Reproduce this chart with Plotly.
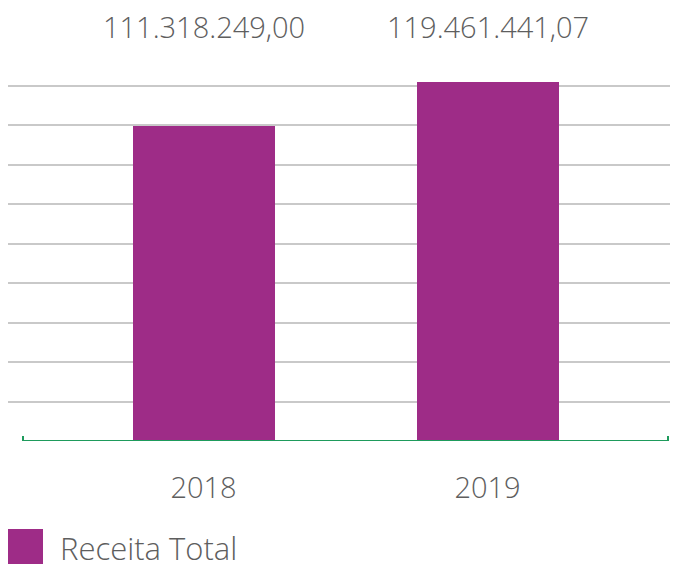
import plotly.graph_objects as go

# ---- data ----
categories = ["2018", "2019"]
values = [111318249.00, 119461441.07]
series_name = "Receita Total"

# ---- styling constants ----
BAR_COLOR = "#9E2C87"
GRID_COLOR = "#C9C9C9"
AXIS_COLOR = "#1E9B5C"
TEXT_COLOR = "#5E5E5E"
FONT = "Open Sans"

# page body adds an 8px margin, so the figure is 8px smaller than the window
W, H = 670, 556
ML, MR, MT, MB = 0, 0, 62, 123
plot_w = W - ML - MR
plot_h = H - MT - MB

base = 53.4e6          # value axis origin
dtick = 7.25e6         # gridline step
px_per_unit = 39.44 / dtick
y_top = base + plot_h / px_per_unit
gridvals = [base + i * dtick for i in range(1, 10)]


def fmt_br(v):
    s = f"{v:,.2f}"
    return s.replace(",", "X").replace(".", ",").replace("X", ".")


fig = go.Figure()
fig.add_trace(go.Bar(
    x=categories, y=[v - base for v in values], base=base, name=series_name,
    marker=dict(color=BAR_COLOR, line=dict(width=0)),
    width=0.5, showlegend=False, cliponaxis=False,
))

x_left, x_right = -0.6884, 1.6708
fig.update_layout(
    width=W, height=H,
    margin=dict(l=ML, r=MR, t=MT, b=MB),
    paper_bgcolor="white", plot_bgcolor="white",
    font=dict(family=FONT, color=TEXT_COLOR, size=29, weight=300),
    xaxis=dict(
        type="category", range=[x_left, x_right],
        showgrid=False, showline=False, zeroline=False,
        ticks="", tickfont=dict(size=29, color=TEXT_COLOR, family=FONT, weight=300),
        ticklabelstandoff=27,
    ),
    yaxis=dict(
        range=[base, y_top], tickmode="array", tickvals=gridvals,
        showticklabels=False, showgrid=True, gridcolor=GRID_COLOR, gridwidth=2,
        zeroline=False, showline=False,
    ),
    bargap=0,
)

# value labels above the chart
for i, v in enumerate(values):
    fig.add_annotation(
        x=i, y=1 + (MT - 18.5) / plot_h, xref="x", yref="paper",
        text=fmt_br(v), showarrow=False, yanchor="middle",
        font=dict(size=29, color=TEXT_COLOR, family=FONT, weight=300),
    )

# green category axis line with end ticks
ax0, ax1 = -0.6356, 1.6356
fig.add_shape(type="line", xref="x", yref="y",
              x0=ax0, x1=ax1, y0=base, y1=base,
              line=dict(color=AXIS_COLOR, width=2))
for xe in (ax0, ax1):
    fig.add_shape(type="line", xref="x", yref="y",
                  ysizemode="pixel", yanchor=base,
                  x0=xe, x1=xe, y0=-5, y1=5,
                  line=dict(color=AXIS_COLOR, width=2))

# legend (square + label)
baseline_px = H - MB
fig.add_shape(type="rect", xref="paper", yref="paper",
              x0=0, x1=35 / plot_w,
              y0=-(521 - baseline_px) / plot_h, y1=-(556 - baseline_px) / plot_h,
              line=dict(width=0), fillcolor=BAR_COLOR)
fig.add_annotation(
    x=50 / plot_w, y=-(540 - baseline_px) / plot_h, xref="paper", yref="paper",
    text=series_name, showarrow=False, xanchor="left", yanchor="middle",
    font=dict(size=31, color=TEXT_COLOR, family=FONT, weight=300),
)

fig.write_html("out.html")
